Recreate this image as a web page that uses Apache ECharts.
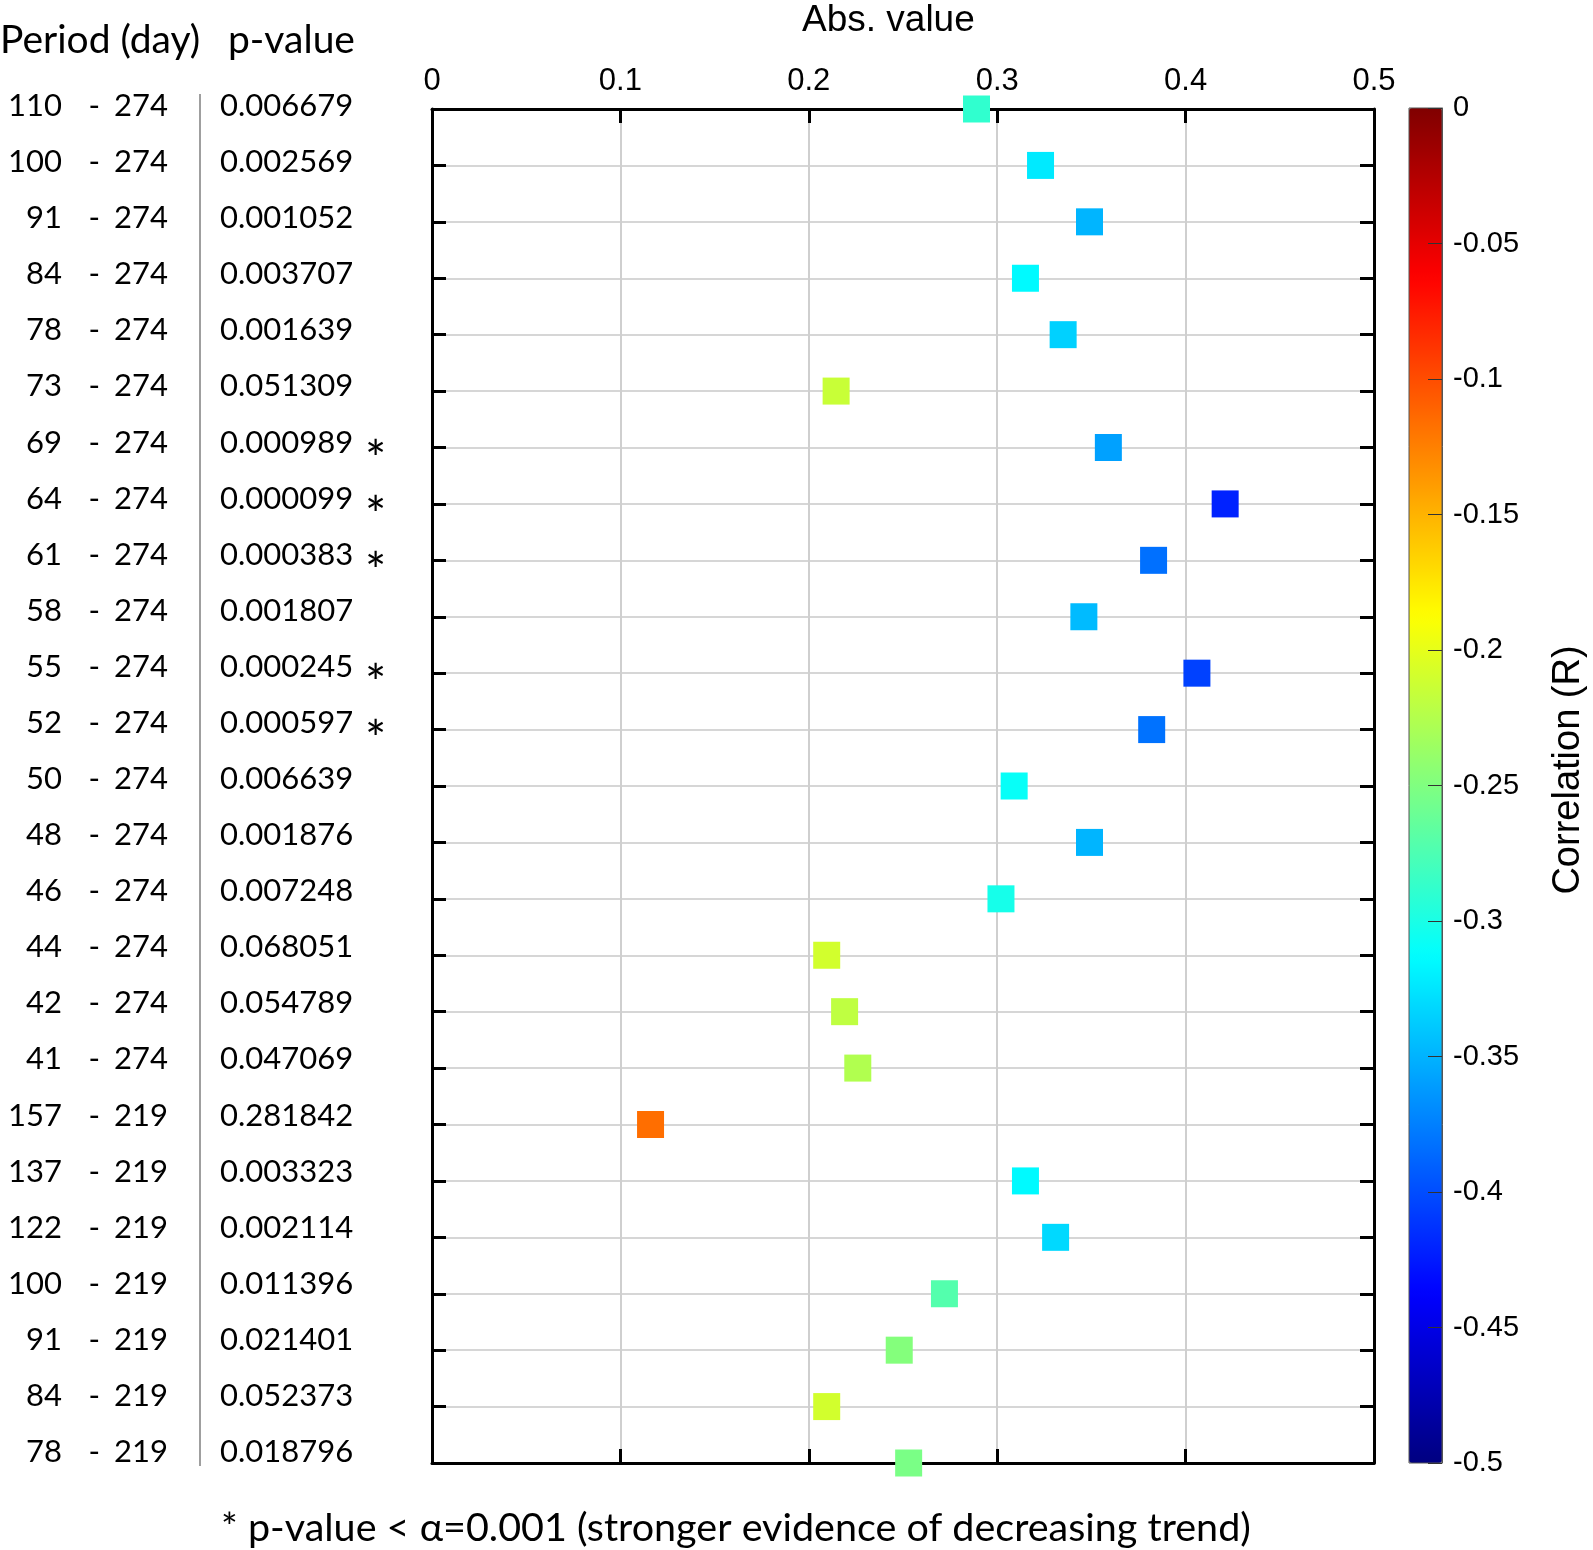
<!DOCTYPE html>
<html>
<head>
<meta charset="utf-8">
<script src="https://cdn.jsdelivr.net/npm/echarts@6/dist/echarts.min.js"></script>
<style>
  html, body { margin: 0; padding: 0; background: #fff; }
  #chart { width: 1593px; height: 1550px; }
</style>
</head>
<body>
<div id="chart"></div>
<script>
// ---- data ----
const periodStart = [110, 100, 91, 84, 78, 73, 69, 64, 61, 58, 55, 52, 50, 48, 46, 44, 42, 41, 157, 137, 122, 100, 91, 84, 78];
const periodEnd   = [274, 274, 274, 274, 274, 274, 274, 274, 274, 274, 274, 274, 274, 274, 274, 274, 274, 274, 219, 219, 219, 219, 219, 219, 219];
const pValues = ['0.006679', '0.002569', '0.001052', '0.003707', '0.001639', '0.051309', '0.000989', '0.000099', '0.000383',
                 '0.001807', '0.000245', '0.000597', '0.006639', '0.001876', '0.007248', '0.068051', '0.054789', '0.047069',
                 '0.281842', '0.003323', '0.002114', '0.011396', '0.021401', '0.052373', '0.018796'];
const absValues = [0.289, 0.323, 0.349, 0.315, 0.335, 0.2145, 0.359, 0.421, 0.383, 0.346, 0.406, 0.382, 0.309,
                   0.349, 0.302, 0.2095, 0.219, 0.226, 0.116, 0.315, 0.331, 0.272, 0.248, 0.2095, 0.253];
const correlation = [-0.289, -0.323, -0.349, -0.315, -0.335, -0.2145, -0.359, -0.421, -0.383, -0.346, -0.406, -0.382, -0.309,
                     -0.349, -0.302, -0.2095, -0.219, -0.226, -0.116, -0.315, -0.331, -0.272, -0.248, -0.2095, -0.253];
const alpha = 0.001;
const xTitle = 'Abs. value';
const cbTitle = 'Correlation (R)';
const headerPeriod = 'Period (day)';
const headerP = 'p-value';
const footnote = '* p-value < \u03b1=0.001 (stronger evidence of decreasing trend)';
const jetColors = ['#000080', '#0000ff', '#0080ff', '#00ffff', '#80ff80', '#ffff00', '#ff8000', '#ff0000', '#800000'];

const categories = periodStart.map((s, i) => s + ' - ' + periodEnd[i]);
const scatterData = absValues.map((v, i) => [v, categories[i], correlation[i]]);

const AX = 'Liberation Sans, Arial, sans-serif';
const CAL = 'Lato, Liberation Sans, sans-serif';

const chart = echarts.init(document.getElementById('chart'), null, { renderer: 'canvas' });

const option = {
  backgroundColor: '#ffffff',
  animation: false,
  title: [
    { text: headerPeriod, left: 0, top: 21, padding: 0, textStyle: { fontFamily: CAL, fontSize: 39, fontWeight: 'normal', color: '#000' } },
    { text: headerP, left: 228, top: 21, padding: 0, textStyle: { fontFamily: CAL, fontSize: 39, fontWeight: 'normal', color: '#000' } },
    { text: xTitle, left: 802, top: 2, padding: 0, textStyle: { fontFamily: AX, fontSize: 37, fontWeight: 'normal', color: '#000' } },
    { text: footnote, left: 221, top: 1508, padding: 0, textStyle: { fontFamily: CAL, fontSize: 39.5, fontWeight: 'normal', color: '#000' } }
  ],
  grid: [
    { left: 432, right: 219, top: 109, bottom: 87, containLabel: false },
    { left: 199, width: 2, top: 106, height: 1346, containLabel: false },
    { left: 1409, width: 33, top: 108, height: 1355, show: true, z: 10, backgroundColor: 'transparent', borderColor: '#555', borderWidth: 1 }
  ],
  visualMap: {
    type: 'continuous', min: -0.5, max: 0, dimension: 2, seriesIndex: 0,
    inRange: { color: jetColors },
    calculable: false, hoverLink: false, orient: 'vertical',
    left: 1409, top: 108, itemWidth: 33, itemHeight: 1355, padding: 0
  },
  xAxis: [
    {
      gridIndex: 0, type: 'value', position: 'top', min: 0, max: 0.5, interval: 0.1,
      axisLine: { show: true, onZero: false, lineStyle: { color: '#000', width: 3 } },
      axisTick: { show: true, inside: true, length: 14, lineStyle: { color: '#000', width: 3 } },
      axisLabel: { show: true, margin: 12, fontFamily: AX, fontSize: 31, color: '#000' },
      splitLine: { show: true, lineStyle: { color: '#cfcfcf', width: 2 } }
    },
    {
      gridIndex: 0, type: 'value', position: 'bottom', min: 0, max: 0.5, interval: 0.1,
      axisLine: { show: true, onZero: false, lineStyle: { color: '#000', width: 3 } },
      axisTick: { show: true, inside: true, length: 14, lineStyle: { color: '#000', width: 3 } },
      axisLabel: { show: false },
      splitLine: { show: false }
    },
    { gridIndex: 1, type: 'value', min: 0, max: 1, show: false },
    { gridIndex: 2, type: 'category', data: [''], show: false }
  ],
  yAxis: [
    {
      gridIndex: 0, type: 'category', data: categories, inverse: true, boundaryGap: false, position: 'left',
      axisLine: { show: true, onZero: false, lineStyle: { color: '#000', width: 3 } },
      axisTick: { show: true, inside: true, length: 14, lineStyle: { color: '#000', width: 3 } },
      axisLabel: { show: false },
      splitLine: { show: true, lineStyle: { color: '#d6d6d6', width: 2 } }
    },
    {
      gridIndex: 0, type: 'category', data: categories, inverse: true, boundaryGap: false, position: 'right',
      axisLine: { show: true, onZero: false, lineStyle: { color: '#000', width: 3 } },
      axisTick: { show: true, inside: true, length: 14, lineStyle: { color: '#000', width: 3 } },
      axisLabel: { show: false },
      splitLine: { show: false }
    },
    {
      gridIndex: 1, type: 'category', data: categories, inverse: true, boundaryGap: false, position: 'left',
      axisLine: { show: false, onZero: false }, axisTick: { show: false }, splitLine: { show: false },
      axisLabel: {
        show: true, interval: 0, margin: 31, align: 'right', color: '#000',
        formatter: function (val, idx) {
          return '{s|' + periodStart[idx] + '}{d|-}{e|' + periodEnd[idx] + '}';
        },
        rich: {
          s: { fontFamily: CAL, fontSize: 31, color: '#000', width: 52, align: 'right' },
          d: { fontFamily: CAL, fontSize: 31, color: '#000', width: 38, align: 'right' },
          e: { fontFamily: CAL, fontSize: 31, color: '#000', width: 68, align: 'right' }
        }
      }
    },
    {
      gridIndex: 1, type: 'category', data: categories, inverse: true, boundaryGap: false, position: 'right',
      axisLine: { show: false, onZero: false }, axisTick: { show: false }, splitLine: { show: false },
      axisLabel: {
        show: true, interval: 0, margin: 19, align: 'left', color: '#000',
        formatter: function (val, idx) {
          const p = pValues[idx];
          return parseFloat(p) < alpha ? '{p|' + p + '}{a|*}' : '{p|' + p + '}';
        },
        rich: {
          p: { fontFamily: CAL, fontSize: 31, color: '#000', width: 145, align: 'left' },
          a: { fontFamily: CAL, fontSize: 50, color: '#000', padding: [36, 0, 0, 0] }
        }
      }
    },
    {
      gridIndex: 2, type: 'value', min: -0.5, max: 0, interval: 0.05, position: 'right', z: 10,
      axisLine: { show: true, onZero: false, lineStyle: { color: '#555', width: 1 } },
      axisTick: { show: true, inside: true, length: 14, lineStyle: { color: '#333', width: 1 } },
      axisLabel: { show: true, margin: 11, fontFamily: AX, fontSize: 29, color: '#000' },
      splitLine: { show: false }
    }
  ],
  graphic: [
    { type: 'line', shape: { x1: 200, y1: 94, x2: 200, y2: 1466 }, style: { stroke: '#7f7f7f', lineWidth: 1.5 } },
    { type: 'text', x: 1569, y: 770, rotation: Math.PI / 2,
      style: { text: cbTitle, font: '38px Liberation Sans, Arial, sans-serif', fill: '#000', textAlign: 'center', textVerticalAlign: 'middle' } }
  ],
  series: [
    {
      type: 'scatter', xAxisIndex: 0, yAxisIndex: 0, symbol: 'rect', symbolSize: 27,
      itemStyle: { opacity: 1 },
      data: scatterData, z: 5
    }
  ]
};
chart.setOption(option);
</script>
</body>
</html>
